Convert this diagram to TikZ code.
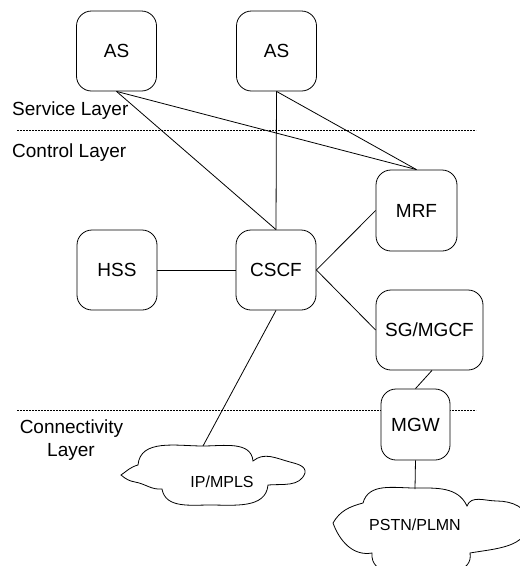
\documentclass[tikz,border=0pt]{standalone}
\usepackage{fontspec}
\setmainfont{Liberation Sans}
\begin{document}
\begin{tikzpicture}[x=1pt,y=-1pt,
  box/.style={draw=black,line width=0.8pt,fill=white,rounded corners=15pt,inner sep=0pt,font=\fontsize{19}{22}\selectfont},
  conn/.style={draw=black,line width=0.8pt},
  layerline/.style={draw=black,line width=0.6pt,dash pattern=on 2pt off 1pt},
  layerlabel/.style={font=\fontsize{19}{22}\selectfont,inner sep=0pt},
  cloudtext/.style={font=\fontsize{16}{19}\selectfont,inner sep=0pt},
  cloudline/.style={draw=black,line width=0.8pt,fill=white}]
\useasboundingbox (0,0) rectangle (520,566);

% layer separators
\coordinate (l1a) at (17,130);
\coordinate (l1b) at (476,130);
\coordinate (l2a) at (17,410);
\coordinate (l2b) at (476,410);
\draw[layerline] (l1a) -- (l1b);
\draw[layerline] (l2a) -- (l2b);

% layer labels
\node[layerlabel,anchor=base west] (svc) at (12,115) {Service Layer};
\node[layerlabel,anchor=base west] (ctl) at (12,157) {Control Layer};
\node[layerlabel,anchor=base] (con1) at (71.5,433) {Connectivity};
\node[layerlabel,anchor=base] (con2) at (71,456) {Layer};

% nodes (positions)
\node[box,minimum width=80pt,minimum height=80pt] (as1) at (116.5,51) {AS};
\node[box,minimum width=80pt,minimum height=80pt] (as2) at (276.5,51) {AS};
\node[box,minimum width=81pt,minimum height=81pt] (mrf) at (416.5,210.5) {MRF};
\node[box,minimum width=80pt,minimum height=80pt] (hss) at (117,270) {HSS};
\node[box,minimum width=80pt,minimum height=80pt] (cscf) at (276,270) {CSCF};
\node[box,minimum width=107pt,minimum height=80pt] (sg) at (429.5,330) {SG/MGCF};

% clouds
\begin{scope}
\clip (0,0) rectangle (520,566);
\path[cloudline] (121,475) to[out=35,in=195] (138,465)
  to[out=85,in=180] (203,446) to[out=0,in=95] (253,461)
  to[out=40,in=165] (290,462) to[out=-15,in=80] (305,473)
  to[out=-110,in=5] (268,485)
  to[out=-95,in=0] (210,505) to[out=180,in=-80] (162,489)
  to[out=185,in=-10] (135,482) to[out=170,in=-40] (121,475) -- cycle;
\path[cloudline] (333,523) to[out=60,in=195] (363,503)
  to[out=75,in=180] (415,488) to[out=0,in=115] (467,506)
  to[out=70,in=180] (497,501) to[out=0,in=90] (528,522)
  to[out=-90,in=10] (470,553)
  to[out=-80,in=0] (425,576) to[out=180,in=-95] (372,553)
  to[out=190,in=-70] (333,523) -- cycle;
\end{scope}
\coordinate (iptop) at (203,446);
\coordinate (pstntop) at (415,489);
\node[cloudtext] (ip) at (222,482) {IP/MPLS};
\node[cloudtext] (pstn) at (415,525) {PSTN/PLMN};

% MGW sits on the connectivity line
\node[box,minimum width=69pt,minimum height=71pt] (mgw) at (415.5,424.5) {MGW};

% connectors
\draw[conn] (as1.south) -- (mrf.north);
\draw[conn] (as1.south) -- (cscf.north);
\draw[conn] (as2.south) -- (mrf.north);
\draw[conn] (as2.south) -- (cscf.north);
\draw[conn] (hss.east) -- (cscf.west);
\draw[conn] (cscf.east) -- (mrf.west);
\draw[conn] (cscf.east) -- (sg.west);
\draw[conn] ([xshift=2.5pt]sg.south) -- (mgw.north);
\draw[conn] (mgw.south) -- (pstntop);
\draw[conn] (cscf.south) -- (iptop);
\end{tikzpicture}
\end{document}
